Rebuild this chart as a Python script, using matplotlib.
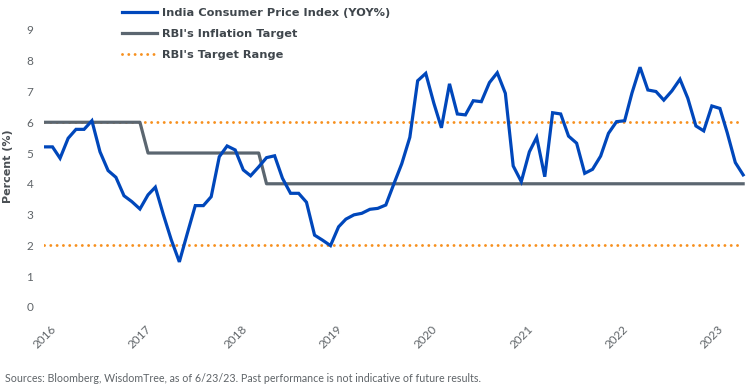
import numpy as np
import pandas as pd
import matplotlib
matplotlib.use("Agg")
import matplotlib.pyplot as plt
import matplotlib.dates as mdates

plt.rcParams['font.family'] = ['Lato', 'DejaVu Sans']

# monthly India CPI YoY (%), Jan 2016 - May 2023
dates = pd.date_range("2016-01-01", "2023-05-01", freq="MS")
cpi = [5.20, 5.20, 4.83, 5.48, 5.77, 5.77, 6.05, 5.04, 4.43, 4.21, 3.61, 3.42,
       3.18, 3.64, 3.89, 2.99, 2.18, 1.46, 2.37, 3.29, 3.29, 3.58, 4.88, 5.23,
       5.10, 4.45, 4.26, 4.55, 4.85, 4.91, 4.18, 3.69, 3.69, 3.40, 2.33, 2.17,
       1.99, 2.60, 2.85, 2.99, 3.04, 3.17, 3.20, 3.31, 4.00, 4.65, 5.51, 7.35,
       7.59, 6.62, 5.82, 7.25, 6.27, 6.24, 6.70, 6.67, 7.29, 7.61, 6.94, 4.58,
       4.07, 5.04, 5.51, 4.23, 6.31, 6.27, 5.55, 5.32, 4.34, 4.47, 4.90, 5.64,
       6.02, 6.05, 6.95, 7.79, 7.05, 7.00, 6.72, 7.02, 7.40, 6.78, 5.88, 5.72,
       6.53, 6.45, 5.66, 4.69, 4.29]
# RBI target: 6 to Jan 2017, 5 to Apr 2018, then 4
target = [6] * 13 + [5] * 15 + [4] * 61
range_hi = [6] * len(dates)
range_lo = [2] * len(dates)

labels = ["India Consumer Price Index (YOY%)", "RBI's Inflation Target", "RBI's Target Range"]
blue = '#0047bb'
grey = '#5b6670'
orange = '#f7901e'
txt = '#5f6468'
bold_font = ['DejaVu Sans']

fig = plt.figure(figsize=(7.51, 3.92), dpi=100)
ax = fig.add_axes([44.4 / 751, 1 - 306.8 / 392, (745.5 - 44.4) / 751, (306.8 - 30.0) / 392])

ax.plot(dates, cpi, color=blue, lw=2.3, label=labels[0], zorder=4, solid_joinstyle='miter')
ax.plot(dates, target, color=grey, lw=2.3, label=labels[1], zorder=3)
dots = dict(color=orange, lw=2.1, linestyle=(0, (0.01, 2.15)), dash_capstyle='round', zorder=2)
ax.plot(dates, range_hi, label=labels[2], **dots)
ax.plot(dates, range_lo, **dots)

ax.set_xlim(pd.Timestamp("2016-01-01"), pd.Timestamp("2023-05-10"))
ax.set_ylim(0, 9)
ax.set_yticks(range(0, 10))
ax.xaxis.set_major_locator(mdates.YearLocator())
ax.xaxis.set_major_formatter(mdates.DateFormatter('%Y'))
for s in ax.spines.values():
    s.set_visible(False)
ax.tick_params(axis='both', length=0, colors=txt, labelsize=8.5)
ax.tick_params(axis='y', pad=8)
ax.tick_params(axis='x', pad=12)
plt.setp(ax.get_xticklabels(), rotation=45)
ax.set_ylabel("Percent (%)", fontsize=8, fontweight='bold', color='#4a4f54', family=bold_font)
ax.yaxis.set_label_coords(13 / 751, 1 - 166 / 392, transform=fig.transFigure)

handles, labs = ax.get_legend_handles_labels()
leg = fig.legend(handles, labs, loc='upper left', bbox_to_anchor=(122 / 751, 1 - 8 / 392),
                 frameon=False, handlelength=3.1, handletextpad=0.4,
                 labelspacing=0.95, borderaxespad=0, borderpad=0,
                 prop={'family': bold_font, 'weight': 'bold', 'size': 8.2})
for t in leg.get_texts():
    t.set_color('#3f464c')

fig.text(5 / 751, 1 - 379 / 392, "Sources: Bloomberg, WisdomTree, as of 6/23/23. Past performance is not indicative of future results.",
         fontsize=7.7, color=txt, va='center', ha='left')

fig.savefig("out.png", dpi=100)
